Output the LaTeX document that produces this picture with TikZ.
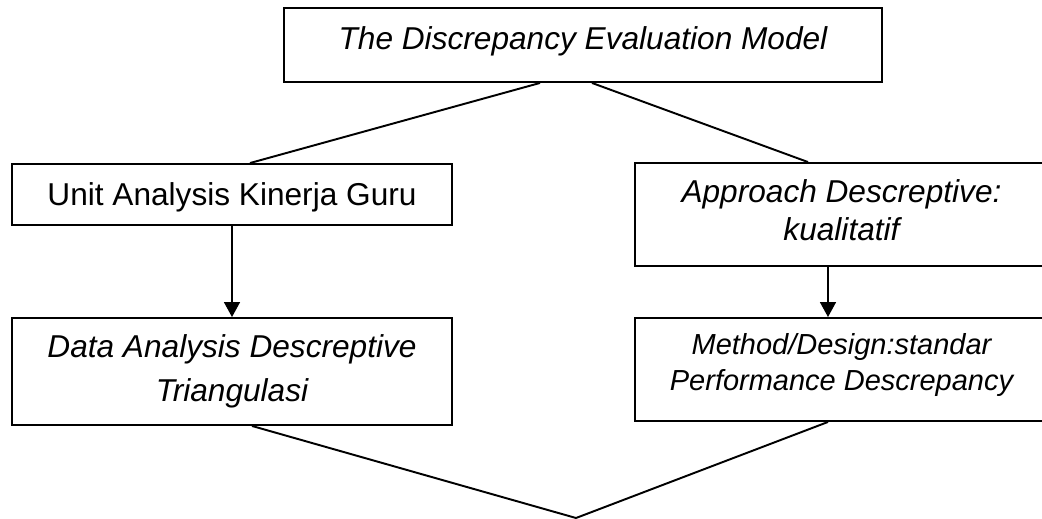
\documentclass[tikz,border=0pt]{standalone}
\usepackage{fontspec}
\setmainfont{Liberation Sans}
\usetikzlibrary{arrows.meta,calc}

\tikzset{
    kotak/.style={draw, align=center, inner sep=0pt},
    panah/.style={-{Triangle[width=9pt,length=8.5pt]}},
}

\begin{document}
\begin{tikzpicture}[x=0.02cm, y=-0.02cm, line width=1.1pt]

        \useasboundingbox (0,0) rectangle (1042,518);

        % --- Kotak utama in alto ---
        \node[kotak, font=\fontsize{18pt}{25pt}\selectfont\itshape,
              minimum width=11.96cm, minimum height=1.48cm, text depth=8.4pt]
              (model) at (583,45) {The Discrepancy Evaluation Model};

        % --- Colonna sinistra ---
        \node[kotak, font=\fontsize{18pt}{25pt}\selectfont,
              minimum width=8.8cm, minimum height=1.22cm, text depth=1pt]
              (unit) at (232,194.5) {Unit Analysis Kinerja Guru};
        \node[kotak, font=\fontsize{18pt}{25pt}\selectfont\itshape,
              minimum width=8.8cm, minimum height=2.14cm]
              (data) at (232,371.5) {Data Analysis Descreptive\\Triangulasi};

        % --- Colonna destra (tagliata al bordo) ---
        \node[kotak, font=\fontsize{18pt}{21.6pt}\selectfont\itshape,
              minimum width=8.26cm, minimum height=2.06cm, text depth=5.5pt]
              (approach) at (841.5,214.5) {Approach Descreptive:\\kualitatif};
        \node[kotak, font=\fontsize{16.5pt}{20pt}\selectfont\itshape,
              minimum width=8.26cm, minimum height=2.06cm, text depth=8.6pt]
              (method) at (841.5,369.5) {Method/Design:standar\\Performance Descrepancy};

        % --- Linee dal modello ---
        \draw ($(model.south)+(-43,0)$) -- ($(unit.north)+(18,0)$);
        \draw ($(model.south)+(9,0)$) -- ($(approach.north)+(-33.5,0)$);

        % --- Frecce verticali ---
        \draw[panah] (unit) -- (data);
        \draw[panah] ($(approach.south)+(-13.5,0)$) -- ($(method.north)+(-13.5,0)$);

        % --- Linee a V verso il basso ---
        \coordinate (apex) at (576,518);
        \foreach \n/\dx in {data/20, method/-13.5} {
            \draw ($(\n.south)+(\dx,0)$) -- (apex);
        }

    \end{tikzpicture}
\end{document}
